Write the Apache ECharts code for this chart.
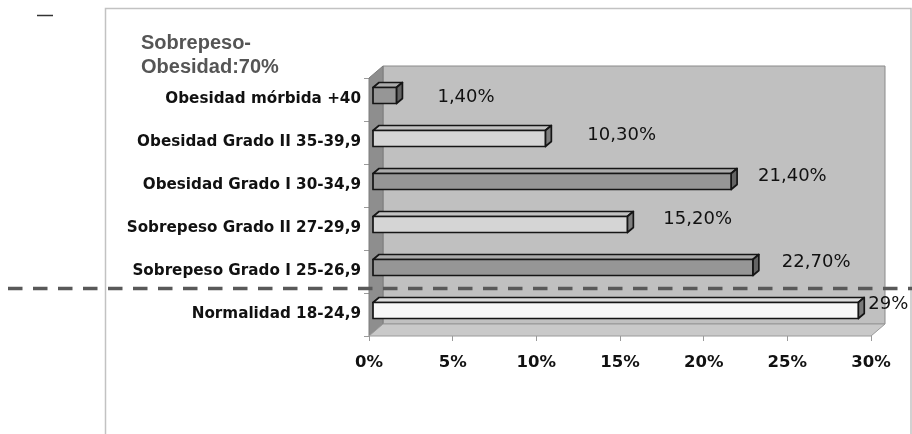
<!DOCTYPE html>
<html>
<head>
<meta charset="utf-8">
<script src="https://cdn.jsdelivr.net/npm/echarts@6/dist/echarts.min.js"></script>
<style>
  html, body { margin: 0; padding: 0; background: #ffffff; }
  #chart { width: 912px; height: 434px; }
</style>
</head>
<body>
<div id="chart"></div>
<script>
// BMI categories (bottom to top) and their share of the population, in %
const categories = [
  'Normalidad 18-24,9',
  'Sobrepeso Grado I 25-26,9',
  'Sobrepeso Grado II 27-29,9',
  'Obesidad Grado I 30-34,9',
  'Obesidad Grado II 35-39,9',
  'Obesidad mórbida +40'
];
const values = [29, 22.7, 15.2, 21.4, 10.3, 1.4];
const xTicks = [0, 5, 10, 15, 20, 25, 30];
const titleText = 'Sobrepeso-\nObesidad:70%';

// shading of each bar: front face, top face, side face
const tones = {
  white: ['#f8f8f8', '#dcdcdc', '#7a7a7a'],
  light: ['#d5d5d5', '#c2c2c2', '#7e7e7e'],
  dark:  ['#969696', '#ababab', '#646464']
};
const barTone = ['white', 'dark', 'light', 'dark', 'light', 'dark'];
// value label nudges [dx, dy] from the end of each bar
const labelNudge = [[4, -10.5], [23, -9.3], [30, -9], [21, -9], [36, -6.8], [35, -2.6]];

const WALL_DX = 14, WALL_DY = -12;     // depth of the 3D box
const BAR_DX = 6, BAR_DY = -5;         // depth of each bar
const BAR_OFF_X = 4, BAR_OFF_Y = -4;   // bars sit a little behind the front plane
const BAR_H = 16;

function fmtPct(v) {
  return Number.isInteger(v) ? v + '%' : v.toFixed(2).replace('.', ',') + '%';
}

function renderWalls(params, api) {
  const c = params.coordSys;
  const x = c.x, y = c.y, w = c.width, h = c.height;
  return {
    type: 'group', silent: true,
    children: [
      { type: 'rect', shape: { x: x + WALL_DX, y: y + WALL_DY, width: w, height: h },
        style: { fill: '#c0c0c0', stroke: '#8a8a8a', lineWidth: 1 } },
      { type: 'polygon', shape: { points: [[x, y], [x + WALL_DX, y + WALL_DY], [x + WALL_DX, y + h + WALL_DY], [x, y + h]] },
        style: { fill: '#8e8e8e', stroke: '#7c7c7c', lineWidth: 1 } },
      { type: 'polygon', shape: { points: [[x, y + h], [x + WALL_DX, y + h + WALL_DY], [x + w + WALL_DX, y + h + WALL_DY], [x + w, y + h]] },
        style: { fill: '#c9c9c9', stroke: '#9a9a9a', lineWidth: 1 } }
    ]
  };
}

function renderBar(params, api) {
  const idx = params.dataIndex;
  const v = api.value(0);
  const p0 = api.coord([0, idx]);
  const p1 = api.coord([v, idx]);
  const x0 = p0[0] + BAR_OFF_X, x1 = p1[0] + BAR_OFF_X;
  const yc = p0[1] + BAR_OFF_Y;
  const yt = yc - BAR_H / 2, yb = yc + BAR_H / 2;
  const t = tones[barTone[idx]];
  const edge = { stroke: '#151515', lineWidth: 1.7, lineJoin: 'round' };
  const nudge = labelNudge[idx];
  return {
    type: 'group',
    children: [
      { type: 'polygon', shape: { points: [[x0, yt], [x0 + BAR_DX, yt + BAR_DY], [x1 + BAR_DX, yt + BAR_DY], [x1, yt]] },
        style: Object.assign({ fill: t[1] }, edge) },
      { type: 'polygon', shape: { points: [[x1, yt], [x1 + BAR_DX, yt + BAR_DY], [x1 + BAR_DX, yb + BAR_DY], [x1, yb]] },
        style: Object.assign({ fill: t[2] }, edge) },
      { type: 'rect', shape: { x: x0, y: yt, width: x1 - x0, height: BAR_H },
        style: Object.assign({ fill: t[0] }, edge) },
      { type: 'text', x: x1 + BAR_DX + nudge[0], y: p0[1] + nudge[1],
        style: { text: fmtPct(v), fill: '#111111', font: '18px "DejaVu Sans"', align: 'left', verticalAlign: 'middle' } }
    ]
  };
}

const chart = echarts.init(document.getElementById('chart'), null, { renderer: 'canvas' });

chart.setOption({
  animation: false,
  backgroundColor: '#ffffff',
  grid: { left: 369, right: 41, top: 78, bottom: 98, containLabel: false },
  xAxis: {
    type: 'value',
    min: xTicks[0],
    max: xTicks[xTicks.length - 1],
    interval: xTicks[1] - xTicks[0],
    axisLine: { show: false },
    axisTick: { show: true, length: 5, lineStyle: { color: '#9a9a9a' } },
    splitLine: { show: false },
    axisLabel: {
      formatter: '{value}%', margin: 18, color: '#111111',
      fontFamily: 'DejaVu Sans', fontWeight: 'bold', fontSize: 16.5
    }
  },
  yAxis: {
    type: 'category',
    data: categories,
    axisLine: { show: false },
    axisTick: { show: true, length: 5, lineStyle: { color: '#9a9a9a' } },
    axisLabel: {
      margin: 8, color: '#111111',
      fontFamily: 'DejaVu Sans', fontWeight: 'bold', fontSize: 15.2
    }
  },
  series: [
    {
      type: 'custom', name: 'walls', z: 1, silent: true,
      renderItem: renderWalls,
      data: [[0, 0]]
    },
    {
      type: 'custom', name: 'IMC', z: 2,
      renderItem: renderBar,
      encode: { x: 0, y: 1 },
      data: values.map((v, i) => [v, i])
    }
  ],
  graphic: [
    { type: 'polyline', silent: true, z: 0,
      shape: { points: [[105.5, 434], [105.5, 8.5], [911, 8.5], [911, 434]] },
      style: { stroke: '#c2c2c2', lineWidth: 1.5, fill: null } },
    { type: 'line', silent: true,
      shape: { x1: 37, y1: 15.5, x2: 53, y2: 15.5 },
      style: { stroke: '#333333', lineWidth: 1.5 } },
    { type: 'text', silent: true, left: 141, top: 31,
      style: { text: titleText, fill: '#555555', font: 'bold 20px "Liberation Sans"', lineHeight: 24 } },
    { type: 'line', silent: true, z: 100,
      shape: { x1: 8, y1: 288.5, x2: 912, y2: 288.5 },
      style: { stroke: '#595959', lineWidth: 3.5, lineDash: [14.5, 10.5] } }
  ]
});
</script>
</body>
</html>
